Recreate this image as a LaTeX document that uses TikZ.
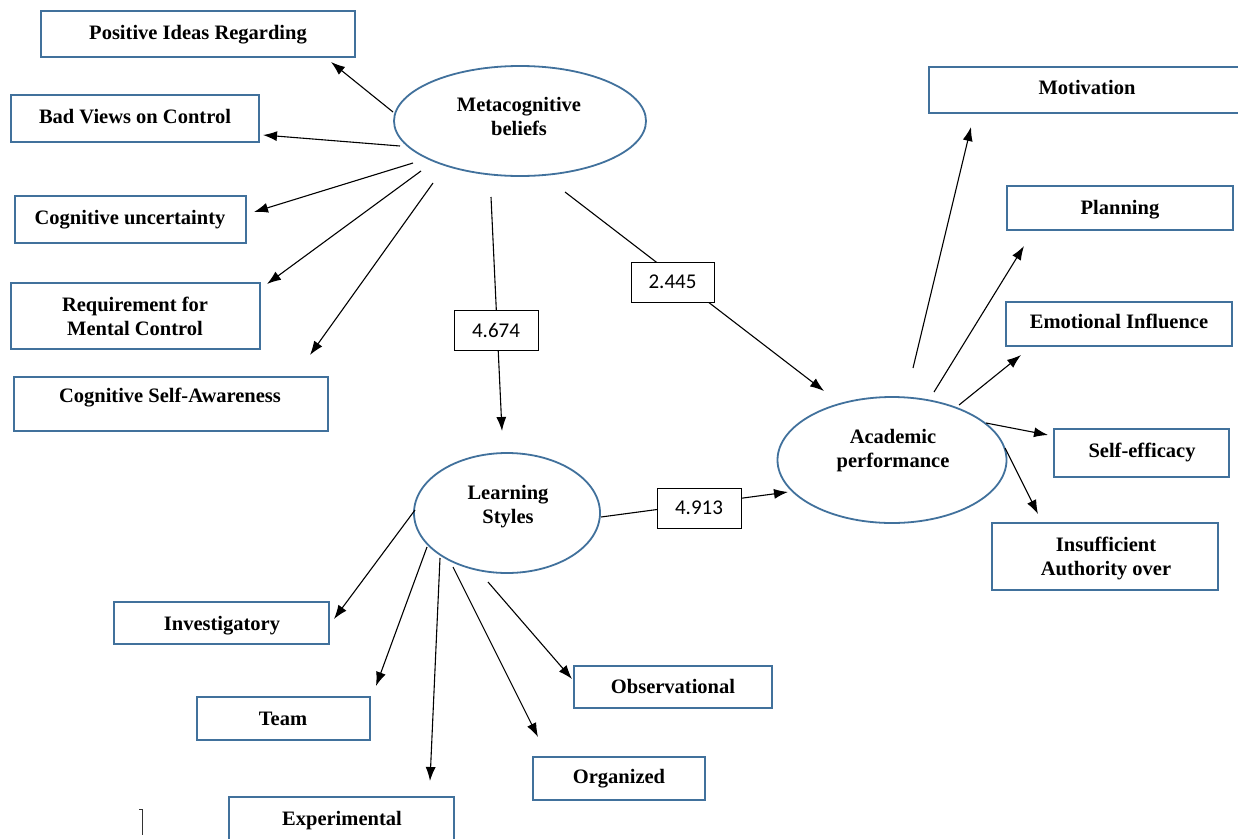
\documentclass[tikz,border=0pt]{standalone}
\usepackage{fontspec}
\setmainfont{Liberation Serif}
\newfontfamily\numfont{Carlito}
\usetikzlibrary{arrows.meta,shapes.geometric}
\definecolor{boxblue}{RGB}{65,113,156}
\begin{document}
\begin{tikzpicture}[x=1pt,y=-1pt,
 box/.style={draw=boxblue,line width=1.8pt,rectangle,inner sep=0pt},
 oval/.style={draw=boxblue,line width=1.8pt,ellipse,inner sep=0pt},
 txt/.style={font=\bfseries\fontsize{20.5}{24}\selectfont,align=center,anchor=base,inner sep=0pt},
 numbox/.style={draw=black,line width=1pt,fill=white,minimum width=84pt,minimum height=40pt,inner sep=0pt,font=\numfont\fontsize{21}{24}\selectfont},
 arr/.style={line width=1.1pt,-{Latex[length=14pt,width=10pt]}}]
\useasboundingbox (0,0) rectangle (1238,838);
\fill[white] (0,0) rectangle (1238,838);

% ellipses
\node[oval,minimum width=252pt,minimum height=110pt] (meta) at (520,121) {};
\node[txt] (metat) at (519,135) {Metacognitive\\beliefs};
\node[oval,minimum width=186pt,minimum height=120pt] (learn) at (507,513) {};
\node[txt] (learnt) at (508,523) {Learning\\Styles};
\node[oval,minimum width=229pt,minimum height=126pt] (acad) at (892,460) {};
\node[txt] (acadt) at (893,467) {Academic\\performance};

% boxes
\node[box,minimum width=314pt,minimum height=46pt] (b1) at (198,34) {};
\node[txt] (t1) at (198,39) {Positive Ideas Regarding};
\node[box,minimum width=248pt,minimum height=47pt] (b2) at (135,118.5) {};
\node[txt] (t2) at (135,123) {Bad Views on Control};
\node[box,minimum width=231pt,minimum height=47pt] (b3) at (130.5,219.5) {};
\node[txt] (t3) at (130,224) {Cognitive uncertainty};
\node[box,minimum width=249pt,minimum height=66pt] (b4) at (135.5,316) {};
\node[txt] (t4) at (135,335) {Requirement for\\Mental Control};
\node[box,minimum width=314pt,minimum height=54pt] (b5) at (171,404) {};
\node[txt] (t5) at (170,402) {Cognitive Self-Awareness};

\node[box,minimum width=316pt,minimum height=46pt] (b6) at (1087,90) {};
\node[txt] (t6) at (1087,94) {Motivation};
\node[box,minimum width=226pt,minimum height=44pt] (b7) at (1120,208) {};
\node[txt] (t7) at (1120,214) {Planning};
\node[box,minimum width=226pt,minimum height=44pt] (b8) at (1119,324) {};
\node[txt] (t8) at (1119,328) {Emotional Influence};
\node[box,minimum width=175pt,minimum height=48pt] (b9) at (1141.5,453) {};
\node[txt] (t9) at (1142,457) {Self-efficacy};
\node[box,minimum width=226pt,minimum height=67pt] (b10) at (1105,556.5) {};
\node[txt] (t10) at (1106,575) {Insufficient\\Authority over};

\node[box,minimum width=215pt,minimum height=42pt] (b11) at (221.5,623) {};
\node[txt] (t11) at (222,630) {Investigatory};
\node[box,minimum width=173pt,minimum height=43pt] (b12) at (283.5,718.5) {};
\node[txt] (t12) at (283,725) {Team};
\node[box,minimum width=225pt,minimum height=63pt] (b13) at (341.5,828.5) {};
\node[txt] (t13) at (342,825) {Experimental};
\node[box,minimum width=198pt,minimum height=42pt] (b14) at (673,687) {};
\node[txt] (t14) at (673,693) {Observational};
\node[box,minimum width=172pt,minimum height=43pt] (b15) at (619,778.5) {};
\node[txt] (t15) at (619,783) {Organized};

% connector end points
\coordinate (m1s) at (393,112); \coordinate (m1t) at (331,62);
\coordinate (m2s) at (400,146); \coordinate (m2t) at (263,135);
\coordinate (m3s) at (413,163); \coordinate (m3t) at (254,212);
\coordinate (m4s) at (421,171); \coordinate (m4t) at (267,284);
\coordinate (m5s) at (433,183); \coordinate (m5t) at (310,355);
\coordinate (p1s) at (491,197); \coordinate (p1t) at (502,431);
\coordinate (p2s) at (565,192); \coordinate (p2t) at (824,391);
\coordinate (p3s) at (601,517); \coordinate (p3t) at (788,492);
\coordinate (a1s) at (913,368); \coordinate (a1t) at (971,127);
\coordinate (a2s) at (934,392); \coordinate (a2t) at (1024,246);
\coordinate (a3s) at (959,405); \coordinate (a3t) at (1021,355);
\coordinate (a4s) at (986,423); \coordinate (a4t) at (1048,435);
\coordinate (a5s) at (1005,448); \coordinate (a5t) at (1038,514);
\coordinate (l1s) at (415,510); \coordinate (l1t) at (334,619);
\coordinate (l2s) at (427,547); \coordinate (l2t) at (376,686);
\coordinate (l3s) at (440,558); \coordinate (l3t) at (430,781);
\coordinate (l4s) at (453,567); \coordinate (l4t) at (538,737);
\coordinate (l5s) at (488,582); \coordinate (l5t) at (572,679);

\foreach \s in {m1,m2,m3,m4,m5,p1,p2,p3,a1,a2,a3,a4,a5,l1,l2,l3,l4,l5}
  \draw[arr] (\s s) -- (\s t);

% path labels
\node[numbox] (n1) at (496,330) {4.674};
\node[numbox,minimum width=83pt] (n2) at (672.5,282) {2.445};
\node[numbox] (n3) at (699,508) {4.913};

% stray mark
\coordinate (k1) at (139,809); \coordinate (k2) at (142,809); \coordinate (k3) at (142,835);
\draw[line width=1pt,black!80] (k1) -- (k2) -- (k3);
\end{tikzpicture}
\end{document}
